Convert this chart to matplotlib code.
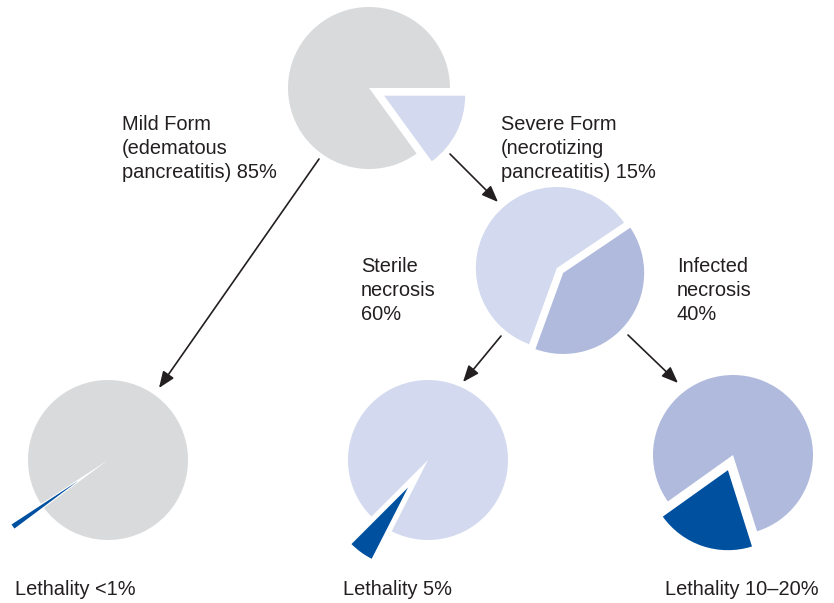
import matplotlib as mpl
mpl.use('Agg')
mpl.rcParams['font.family'] = 'Liberation Sans'
import matplotlib.pyplot as plt

#=============
# Data
#=============
formShares = [15, 85]          # severe, mild
necrosisShares = [40, 60]      # infected, sterile
lethalityMild = [1, 99]
lethalitySterile = [5, 95]
lethalityInfected = [20, 80]

formLabel = ['Mild Form\n(edematous\npancreatitis) 85%',
             'Severe Form\n(necrotizing\npancreatitis) 15%']
necrosisLabel = ['Sterile\nnecrosis\n60%', 'Infected\nnecrosis\n40%']
lethalityLabel = ['Lethality <1%', 'Lethality 5%', 'Lethality 10\u201320%']

#=============
# Colours
#=============
grey = '#d9dadc'
light = '#d3d9ee'
mid = '#b0badd'
dark = '#0050a0'
ink = '#231f20'

W, H = 834, 603

def P(x, y):
    # page coords (y down) -> axes coords (y up)
    return (x, H - y)

fig = plt.figure(figsize=(W/100., H/100.), dpi=100)
ax = fig.add_axes([0, 0, 1, 1])

def draw_pie(vals, cols, cx, cy, r, start, expl):
    ax.pie(vals, colors=cols, startangle=start, counterclock=True,
           center=P(cx, cy), radius=r, explode=expl,
           wedgeprops=dict(linewidth=0))

#------------------------------
# Pies
#------------------------------
draw_pie(formShares, [light, grey], 369, 88, 81, -formShares[0]*3.6, [17, 0])
draw_pie(necrosisShares, [mid, light], 560, 270.5, 81, -110, [4, 4])

draw_pie(lethalityMild, [dark, grey], 108, 460, 80, 215 - lethalityMild[0]*1.8, [36, 0])
draw_pie(lethalitySterile, [dark, light], 428, 460, 80, 234 - lethalitySterile[0]*1.8, [34, 0])
draw_pie(lethalityInfected, [dark, mid], 733, 455, 80, 251.5 - lethalityInfected[0]*1.8, [16, 0])

#------------------------------
# Arrows
#------------------------------
arrows = [((319, 159), (159, 388)),
          ((450, 154), (498, 202)),
          ((501, 336), (463, 382)),
          ((628, 335), (678, 383))]
for a, b in arrows:
    ax.annotate('', xy=P(*b), xytext=P(*a),
                arrowprops=dict(arrowstyle='-|>,head_length=0.45,head_width=0.18',
                                color=ink, lw=1.2, mutation_scale=22,
                                shrinkA=0, shrinkB=0))

#------------------------------
# Labels
#------------------------------
fs = 14.4
ls = 1.33
ax.text(*P(122, 115), formLabel[0], fontsize=fs, color=ink, va='top', ha='left', linespacing=ls)
ax.text(*P(501, 115), formLabel[1], fontsize=fs, color=ink, va='top', ha='left', linespacing=ls)
ax.text(*P(361, 257), necrosisLabel[0], fontsize=fs, color=ink, va='top', ha='left', linespacing=ls)
ax.text(*P(677, 257), necrosisLabel[1], fontsize=fs, color=ink, va='top', ha='left', linespacing=ls)

for x, s in zip([15, 343, 665], lethalityLabel):
    ax.text(*P(x, 595), s, fontsize=fs, color=ink, va='baseline', ha='left')

ax.set_xlim(0, W)
ax.set_ylim(0, H)
ax.set_aspect('equal')
ax.axis('off')

fig.savefig('out.png', dpi=100)
